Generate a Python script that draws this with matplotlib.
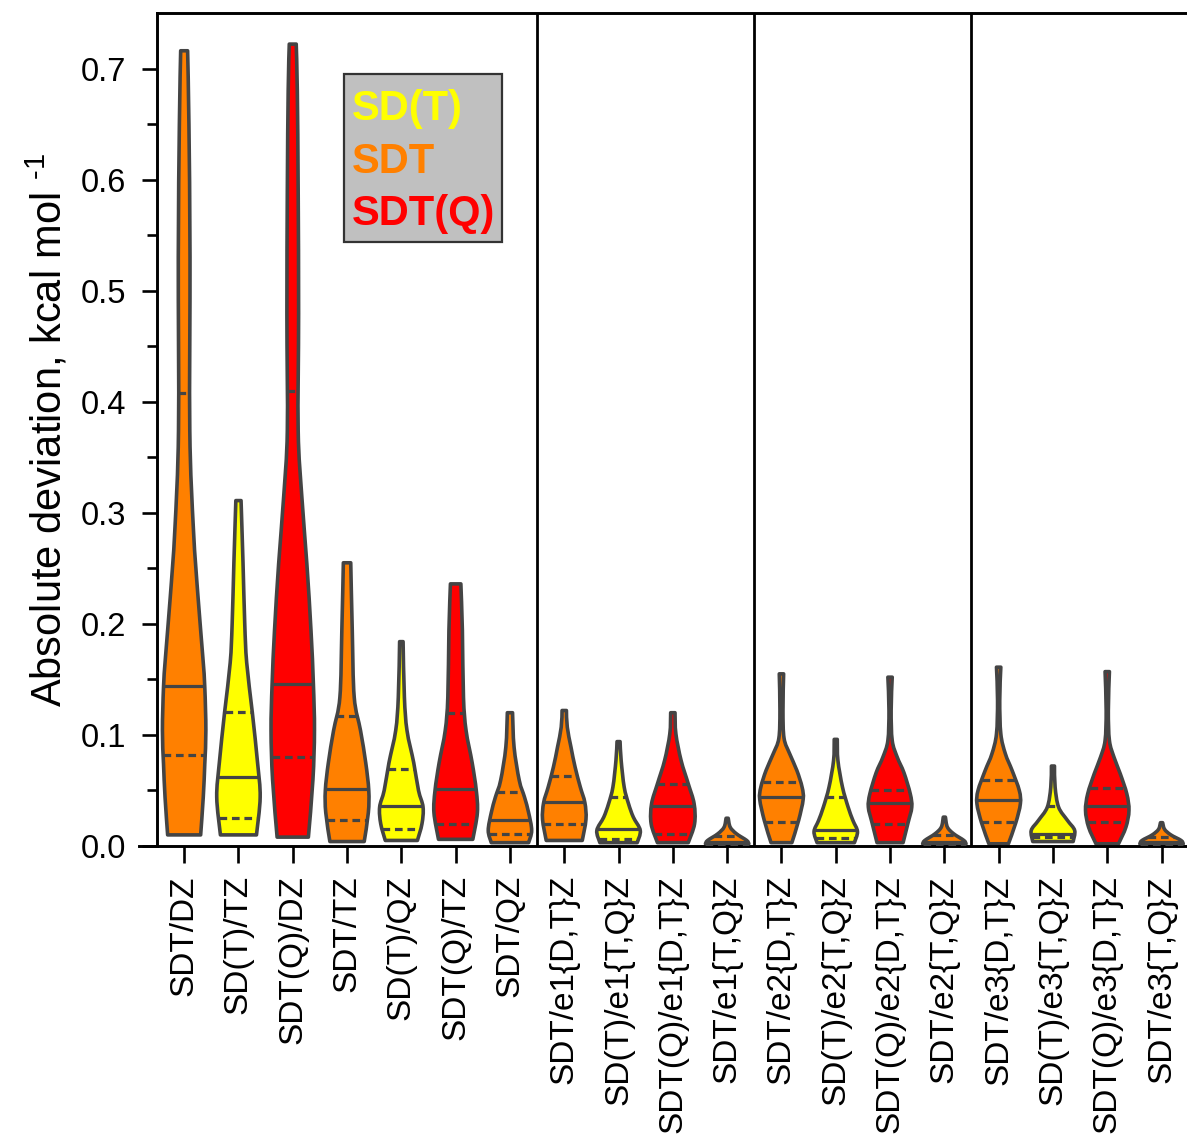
import numpy as np
import matplotlib.pyplot as plt
from matplotlib.path import Path
from matplotlib.patches import PathPatch, Rectangle

plt.rcParams['font.family'] = ['Liberation Sans', 'DejaVu Sans']
plt.rcParams['mathtext.fontset'] = 'custom'
plt.rcParams['mathtext.rm'] = 'Liberation Sans'
plt.rcParams['mathtext.it'] = 'Liberation Sans:italic'
plt.rcParams['mathtext.bf'] = 'Liberation Sans:bold'

labels = ["SDT/DZ", "SD(T)/TZ", "SDT(Q)/DZ", "SDT/TZ", "SD(T)/QZ", "SDT(Q)/TZ", "SDT/QZ",
          "SDT/e1{D,T}Z", "SD(T)/e1{T,Q}Z", "SDT(Q)/e1{D,T}Z", "SDT/e1{T,Q}Z",
          "SDT/e2{D,T}Z", "SD(T)/e2{T,Q}Z", "SDT(Q)/e2{D,T}Z", "SDT/e2{T,Q}Z",
          "SDT/e3{D,T}Z", "SD(T)/e3{T,Q}Z", "SDT(Q)/e3{D,T}Z", "SDT/e3{T,Q}Z"]
methods = ["SDT", "SD(T)", "SDT(Q)", "SDT", "SD(T)", "SDT(Q)", "SDT",
           "SDT", "SD(T)", "SDT(Q)", "SDT",
           "SDT", "SD(T)", "SDT(Q)", "SDT",
           "SDT", "SD(T)", "SDT(Q)", "SDT"]
method_colors = {"SD(T)": "#ffff00", "SDT": "#ff8000", "SDT(Q)": "#ff0000"}

# quartiles
q1 = [0.082, 0.025, 0.080, 0.023, 0.015, 0.020, 0.011,
      0.020, 0.006, 0.011, 0.002,
      0.022, 0.007, 0.020, 0.002,
      0.022, 0.008, 0.022, 0.002]
med = [0.144, 0.062, 0.146, 0.051, 0.036, 0.051, 0.023,
       0.040, 0.015, 0.036, 0.004,
       0.044, 0.014, 0.039, 0.004,
       0.041, 0.011, 0.036, 0.004]
q3 = [0.408, 0.121, 0.410, 0.117, 0.069, 0.120, 0.049,
      0.063, 0.044, 0.056, 0.009,
      0.058, 0.044, 0.050, 0.010,
      0.059, 0.036, 0.052, 0.008]

# violin outlines: heights and relative density (1 = widest)
profile_y = [
    [0.010, 0.044, 0.074, 0.104, 0.143, 0.170, 0.224, 0.284, 0.374, 0.530, 0.650, 0.716],
    [0.010, 0.044, 0.075, 0.120, 0.165, 0.200, 0.255, 0.311],
    [0.008, 0.060, 0.104, 0.146, 0.194, 0.254, 0.314, 0.374, 0.479, 0.590, 0.680, 0.722],
    [0.004, 0.030, 0.050, 0.075, 0.104, 0.134, 0.194, 0.255],
    [0.005, 0.020, 0.035, 0.050, 0.075, 0.104, 0.134, 0.184],
    [0.006, 0.030, 0.050, 0.075, 0.104, 0.134, 0.194, 0.236],
    [0.003, 0.014, 0.030, 0.044, 0.059, 0.089, 0.120],
    [0.005, 0.024, 0.039, 0.053, 0.071, 0.089, 0.107, 0.122],
    [0.003, 0.014, 0.026, 0.038, 0.053, 0.077, 0.094],
    [0.003, 0.020, 0.038, 0.056, 0.077, 0.101, 0.120],
    [0.002, 0.005, 0.011, 0.017, 0.025],
    [0.003, 0.023, 0.042, 0.053, 0.068, 0.083, 0.097, 0.122, 0.155],
    [0.003, 0.013, 0.023, 0.035, 0.053, 0.077, 0.096],
    [0.003, 0.021, 0.035, 0.047, 0.066, 0.080, 0.095, 0.122, 0.152],
    [0.002, 0.005, 0.011, 0.017, 0.026],
    [0.002, 0.021, 0.038, 0.050, 0.068, 0.083, 0.101, 0.131, 0.161],
    [0.004, 0.014, 0.023, 0.035, 0.053, 0.072],
    [0.002, 0.017, 0.032, 0.047, 0.065, 0.080, 0.095, 0.122, 0.157],
    [0.002, 0.005, 0.010, 0.015, 0.021],
]
profile_w = [
    [0.76, 0.88, 0.95, 1.00, 0.95, 0.86, 0.64, 0.43, 0.26, 0.27, 0.22, 0.16],
    [0.83, 1.00, 0.88, 0.64, 0.38, 0.29, 0.21, 0.12],
    [0.72, 0.93, 1.00, 0.95, 0.84, 0.65, 0.42, 0.25, 0.27, 0.25, 0.21, 0.16],
    [0.79, 0.98, 1.00, 0.86, 0.62, 0.33, 0.24, 0.17],
    [0.74, 0.95, 1.00, 0.79, 0.57, 0.26, 0.14, 0.08],
    [0.79, 1.00, 0.95, 0.76, 0.48, 0.36, 0.31, 0.24],
    [0.86, 1.00, 0.86, 0.67, 0.43, 0.19, 0.12],
    [0.83, 1.00, 0.95, 0.74, 0.50, 0.31, 0.14, 0.10],
    [0.86, 1.00, 0.68, 0.46, 0.26, 0.12, 0.07],
    [0.71, 1.00, 0.98, 0.71, 0.38, 0.14, 0.10],
    [1.00, 0.90, 0.43, 0.14, 0.05],
    [0.48, 0.79, 1.00, 0.95, 0.71, 0.38, 0.12, 0.07, 0.10],
    [0.86, 1.00, 0.79, 0.57, 0.31, 0.10, 0.07],
    [0.60, 0.83, 1.00, 0.93, 0.64, 0.33, 0.10, 0.05, 0.10],
    [1.00, 0.90, 0.43, 0.14, 0.05],
    [0.45, 0.79, 1.00, 0.95, 0.62, 0.31, 0.10, 0.05, 0.10],
    [0.93, 1.00, 0.67, 0.26, 0.10, 0.07],
    [0.52, 0.86, 1.00, 0.90, 0.60, 0.31, 0.10, 0.05, 0.10],
    [1.00, 0.90, 0.43, 0.14, 0.05],
]
group_breaks = [6.5, 10.5, 14.5]

EDGE = "#444444"
HALF = 0.40


def smooth(points):
    # Catmull-Rom through the knots, as cubic bezier pieces
    verts, n = [], len(points)
    for i in range(n - 1):
        p0 = points[max(i - 1, 0)]
        p1 = points[i]
        p2 = points[i + 1]
        p3 = points[min(i + 2, n - 1)]
        c1 = p1 + (p2 - p0) / 6.0
        c2 = p2 - (p3 - p1) / 6.0
        verts += [c1, c2, p2]
    return verts


def draw_violin(ax, xc, ys, ws, color):
    ys = np.asarray(ys)
    ws = np.asarray(ws) * HALF
    right = [np.array([xc + w, y]) for y, w in zip(ys, ws)]
    left = [np.array([xc - w, y]) for y, w in zip(ys[::-1], ws[::-1])]
    verts = [right[0]] + smooth(right) + [left[0]] + smooth(left) + [right[0]]
    codes = ([Path.MOVETO] + [Path.CURVE4] * (3 * (len(right) - 1)) + [Path.LINETO]
             + [Path.CURVE4] * (3 * (len(left) - 1)) + [Path.CLOSEPOLY])
    ax.add_patch(PathPatch(Path(verts, codes), facecolor=color, edgecolor=EDGE,
                           lw=2.6, zorder=2, joinstyle='round'))


fig = plt.figure(figsize=(11.87, 11.44), dpi=100)
ax = fig.add_axes([157 / 1187, 1 - 846 / 1144, 1031.7 / 1187, 833 / 1144])

for i, (lab, m) in enumerate(zip(labels, methods)):
    ys, ws = profile_y[i], profile_w[i]
    draw_violin(ax, i, ys, ws, method_colors[m])
    for val, ls in ((q1[i], (0, (2.4, 1.5))), (med[i], '-'), (q3[i], (0, (2.4, 1.5)))):
        hw = np.interp(val, ys, ws) * HALF
        ax.plot([i - hw, i + hw], [val, val], color=EDGE, lw=2.3, ls=ls, zorder=3,
                solid_capstyle='butt', dash_capstyle='butt')

for xb in group_breaks:
    ax.axvline(xb, color='black', lw=2.0, zorder=1)

ax.set_xlim(-0.5, len(labels) - 0.5)
ax.set_ylim(0, 0.75)
ax.set_xticks(range(len(labels)))
ax.set_xticklabels(labels, rotation=90, fontsize=24)
ax.set_yticks(np.arange(0, 0.71, 0.1))
ax.set_yticks(np.arange(0.05, 0.75, 0.1), minor=True)
ax.set_yticklabels([f"{v:.1f}" for v in np.arange(0, 0.71, 0.1)], fontsize=23.5)
ax.tick_params(axis='y', which='major', direction='out', length=11, width=1.9, pad=11)
ax.tick_params(axis='y', which='minor', direction='out', length=7, width=1.9)
ax.tick_params(axis='x', direction='out', length=12, width=1.9, pad=9)
for s in ax.spines.values():
    s.set_linewidth(2.1)
ax.plot([-0.017, 0], [0, 0], transform=ax.transAxes, color='black', lw=2.1, clip_on=False)

ax.set_ylabel(r"Absolute deviation, kcal mol $^{\text{-1}}$", fontsize=30)
ax.yaxis.set_label_coords(-0.084, 0.5)

# legend box
ax.add_patch(Rectangle((0.1813, 0.7251), 0.1531, 0.2017, transform=ax.transAxes,
                       facecolor='#c0c0c0', edgecolor='#333333', lw=1.6, zorder=4))
for name, yb in zip(["SD(T)", "SDT", "SDT(Q)"], [0.8715, 0.808, 0.745]):
    ax.text(0.189, yb, name, transform=ax.transAxes, color=method_colors[name],
            fontsize=30, fontweight='bold', va='baseline', ha='left', zorder=5)

fig.savefig("out.png", dpi=100)
